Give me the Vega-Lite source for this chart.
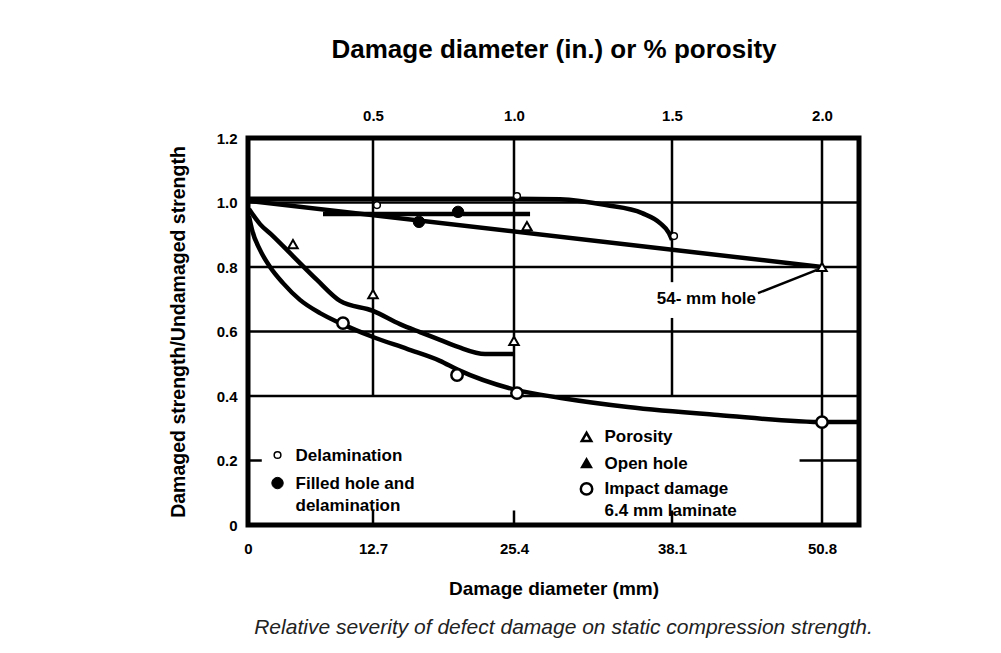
{
  "$schema": "https://vega.github.io/schema/vega-lite/v6.json",
  "width": 611,
  "height": 387,
  "autosize": {"type": "none"},
  "padding": {"left": 248, "top": 138, "right": 142, "bottom": 128},
  "background": "white",
  "config": {
    "font": "Liberation Sans",
    "view": {"stroke": "black", "strokeWidth": 5},
    "axis": {
      "labelFont": "Liberation Sans",
      "labelFontWeight": "bold",
      "labelFontSize": 15,
      "labelColor": "black",
      "titleFont": "Liberation Sans",
      "titleColor": "black",
      "titleFontWeight": "bold",
      "domain": false,
      "ticks": false,
      "tickSize": 0,
      "grid": false,
      "labelOverlap": false,
      "labelFlush": false,
      "labelBound": false
    }
  },
  "title": {
    "text": "Relative severity of defect damage on static compression strength.",
    "orient": "bottom",
    "anchor": "middle",
    "font": "Liberation Sans",
    "fontStyle": "italic",
    "fontWeight": "normal",
    "fontSize": 21,
    "color": "#222222",
    "offset": 19,
    "dx": 10
  },
  "datasets": {
    "grid": [
      {"mm": 0, "mm2": 54, "ratio": 1.0, "ratio2": 1.0},
      {"mm": 0, "mm2": 54, "ratio": 0.8, "ratio2": 0.8},
      {"mm": 0, "mm2": 54, "ratio": 0.6, "ratio2": 0.6},
      {"mm": 0, "mm2": 54, "ratio": 0.4, "ratio2": 0.4},
      {"mm": 0, "mm2": 1.4, "ratio": 0.2, "ratio2": 0.2},
      {"mm": 48.9, "mm2": 54, "ratio": 0.2, "ratio2": 0.2},
      {"mm": 12.7, "mm2": 12.7, "ratio": 0.4, "ratio2": 1.2},
      {"mm": 25.4, "mm2": 25.4, "ratio": 0.4, "ratio2": 1.2},
      {"mm": 38.1, "mm2": 38.1, "ratio": 0.753, "ratio2": 1.2},
      {"mm": 38.1, "mm2": 38.1, "ratio": 0.4, "ratio2": 0.642},
      {"mm": 50.8, "mm2": 50.8, "ratio": 0, "ratio2": 1.2},
      {"mm": 12.7, "mm2": 12.7, "ratio": 0, "ratio2": 0.045},
      {"mm": 25.4, "mm2": 25.4, "ratio": 0, "ratio2": 0.045},
      {"mm": 38.1, "mm2": 38.1, "ratio": 0, "ratio2": 0.045}
    ],
    "curves": [
      {"curve": "delamination", "mm": 0, "ratio": 1.012},
      {"curve": "delamination", "mm": 12.7, "ratio": 1.012},
      {"curve": "delamination", "mm": 25.4, "ratio": 1.012},
      {"curve": "delamination", "mm": 29.1, "ratio": 1.01},
      {"curve": "delamination", "mm": 32.8, "ratio": 0.992},
      {"curve": "delamination", "mm": 35.7, "ratio": 0.967},
      {"curve": "delamination", "mm": 37.14, "ratio": 0.936},
      {"curve": "delamination", "mm": 37.86, "ratio": 0.905},
      {"curve": "delamination", "mm": 38.1, "ratio": 0.884},
      {"curve": "filled hole", "mm": 7.62, "ratio": 0.964},
      {"curve": "filled hole", "mm": 26.69, "ratio": 0.964},
      {"curve": "open hole", "mm": 0, "ratio": 1.005},
      {"curve": "open hole", "mm": 50.8, "ratio": 0.8},
      {"curve": "porosity", "mm": 0.1, "ratio": 0.98},
      {"curve": "porosity", "mm": 1.22, "ratio": 0.933},
      {"curve": "porosity", "mm": 2.54, "ratio": 0.896},
      {"curve": "porosity", "mm": 4.57, "ratio": 0.834},
      {"curve": "porosity", "mm": 7.01, "ratio": 0.76},
      {"curve": "porosity", "mm": 9.35, "ratio": 0.695},
      {"curve": "porosity", "mm": 12.7, "ratio": 0.664},
      {"curve": "porosity", "mm": 15.13, "ratio": 0.623},
      {"curve": "porosity", "mm": 16.93, "ratio": 0.598},
      {"curve": "porosity", "mm": 18.73, "ratio": 0.574},
      {"curve": "porosity", "mm": 20.36, "ratio": 0.552},
      {"curve": "porosity", "mm": 22.79, "ratio": 0.53},
      {"curve": "porosity", "mm": 25.4, "ratio": 0.53},
      {"curve": "impact", "mm": 0.1, "ratio": 0.958},
      {"curve": "impact", "mm": 0.41, "ratio": 0.915},
      {"curve": "impact", "mm": 1.22, "ratio": 0.853},
      {"curve": "impact", "mm": 2.24, "ratio": 0.8},
      {"curve": "impact", "mm": 3.56, "ratio": 0.75},
      {"curve": "impact", "mm": 5.28, "ratio": 0.698},
      {"curve": "impact", "mm": 7.32, "ratio": 0.657},
      {"curve": "impact", "mm": 9.35, "ratio": 0.626},
      {"curve": "impact", "mm": 12.7, "ratio": 0.583},
      {"curve": "impact", "mm": 15.76, "ratio": 0.546},
      {"curve": "impact", "mm": 18.73, "ratio": 0.509},
      {"curve": "impact", "mm": 20.36, "ratio": 0.481},
      {"curve": "impact", "mm": 25.56, "ratio": 0.419},
      {"curve": "impact", "mm": 29.18, "ratio": 0.394},
      {"curve": "impact", "mm": 34.56, "ratio": 0.366},
      {"curve": "impact", "mm": 41.99, "ratio": 0.341},
      {"curve": "impact", "mm": 51.14, "ratio": 0.319},
      {"curve": "impact", "mm": 53.93, "ratio": 0.319}
    ],
    "markers": [
      {"series": "Delamination", "mm": 13.06, "ratio": 0.992},
      {"series": "Delamination", "mm": 25.64, "ratio": 1.02},
      {"series": "Delamination", "mm": 38.27, "ratio": 0.896},
      {"series": "Filled hole and delamination", "mm": 16.84, "ratio": 0.94},
      {"series": "Filled hole and delamination", "mm": 20.36, "ratio": 0.971},
      {"series": "Porosity", "mm": 4.57, "ratio": 0.871},
      {"series": "Porosity", "mm": 12.7, "ratio": 0.716},
      {"series": "Porosity", "mm": 25.4, "ratio": 0.571},
      {"series": "Open hole", "mm": 26.44, "ratio": 0.927},
      {"series": "Open hole", "mm": 50.8, "ratio": 0.8},
      {"series": "Impact damage", "mm": 9.65, "ratio": 0.626},
      {"series": "Impact damage", "mm": 20.27, "ratio": 0.465},
      {"series": "Impact damage", "mm": 25.64, "ratio": 0.409},
      {"series": "Impact damage", "mm": 50.8, "ratio": 0.319}
    ],
    "key": [
      {"series": "Delamination", "mm": 3.0, "ratio": 0.217, "label": "Delamination"},
      {"series": "Filled hole and delamination", "mm": 3.0, "ratio": 0.13, "label": "Filled hole and\ndelamination"},
      {"series": "Porosity", "mm": 31.23, "ratio": 0.273, "label": "Porosity"},
      {"series": "Open hole", "mm": 31.23, "ratio": 0.192, "label": "Open hole"},
      {"series": "Impact damage", "mm": 31.23, "ratio": 0.112, "label": "Impact damage\n6.4 mm laminate"}
    ],
    "leader": [
      {"mm": 45.38, "ratio": 0.719, "mm2": 50.38, "ratio2": 0.791, "text": "54- mm hole"}
    ]
  },
  "layer": [
    {
      "data": {"name": "grid"},
      "mark": {"type": "rule", "color": "black", "strokeWidth": 2.5},
      "encoding": {
        "x": {
          "field": "mm",
          "type": "quantitative",
          "scale": {
            "domain": [0, 12.7, 25.4, 38.1, 50.8, 54],
            "range": [0, 125, 266, 424, 574, 611],
            "nice": false,
            "zero": false
          },
          "axis": {
            "orient": "bottom",
            "values": [0, 12.7, 25.4, 38.1, 50.8],
            "labelExpr": "datum.value === 0 ? '0' : format(datum.value, '.1f')",
            "labelPadding": 16,
            "title": "Damage diameter (mm)",
            "titleFontSize": 19,
            "titlePadding": 23
          }
        },
        "x2": {"field": "mm2"},
        "y": {
          "field": "ratio",
          "type": "quantitative",
          "scale": {"domain": [0, 1.2], "nice": false},
          "axis": {
            "values": [0, 0.2, 0.4, 0.6, 0.8, 1.0, 1.2],
            "labelExpr": "datum.value === 0 ? '0' : format(datum.value, '.1f')",
            "labelPadding": 11,
            "title": "Damaged strength/Undamaged strength",
            "titleFontSize": 19.5,
            "titlePadding": 28
          }
        },
        "y2": {"field": "ratio2"}
      }
    },
    {
      "data": {"name": "curves"},
      "mark": {"type": "line", "interpolate": "monotone", "color": "black", "strokeWidth": 4.5},
      "encoding": {
        "x": {
          "field": "mm",
          "type": "quantitative",
          "axis": {
            "orient": "top",
            "values": [12.7, 25.4, 38.1, 50.8],
            "labelExpr": "format(datum.value / 25.4, '.1f')",
            "labelPadding": 15,
            "title": "Damage diameter (in.) or % porosity",
            "titleFontSize": 26,
            "titlePadding": 46
          }
        },
        "y": {"field": "ratio", "type": "quantitative"},
        "detail": {"field": "curve"}
      }
    },
    {
      "data": {"name": "leader"},
      "mark": {"type": "rule", "color": "black", "strokeWidth": 2.5},
      "encoding": {
        "x": {"field": "mm", "type": "quantitative", "axis": null},
        "x2": {"field": "mm2"},
        "y": {"field": "ratio", "type": "quantitative"},
        "y2": {"field": "ratio2"}
      }
    },
    {
      "data": {"name": "leader"},
      "mark": {"type": "text", "align": "right", "baseline": "middle", "dx": -2, "dy": 6, "fontSize": 17, "fontWeight": "bold", "color": "black"},
      "encoding": {
        "x": {"field": "mm", "type": "quantitative", "axis": null},
        "y": {"field": "ratio", "type": "quantitative"},
        "text": {"field": "text"}
      }
    },
    {
      "data": {"name": "markers"},
      "transform": [{"filter": "datum.series === 'Delamination'"}],
      "mark": {"type": "point", "shape": "circle", "size": 45, "filled": true, "fill": "white", "stroke": "black", "strokeWidth": 1.5, "opacity": 1},
      "encoding": {
        "x": {"field": "mm", "type": "quantitative", "axis": null},
        "y": {"field": "ratio", "type": "quantitative"}
      }
    },
    {
      "data": {"name": "markers"},
      "transform": [{"filter": "datum.series === 'Filled hole and delamination'"}],
      "mark": {"type": "point", "shape": "circle", "size": 130, "filled": true, "fill": "black", "stroke": "black", "strokeWidth": 1, "opacity": 1},
      "encoding": {
        "x": {"field": "mm", "type": "quantitative", "axis": null},
        "y": {"field": "ratio", "type": "quantitative"}
      }
    },
    {
      "data": {"name": "markers"},
      "transform": [{"filter": "datum.series === 'Porosity' || datum.series === 'Open hole'"}],
      "mark": {"type": "point", "shape": "triangle-up", "size": 90, "filled": true, "fill": "white", "stroke": "black", "strokeWidth": 2, "opacity": 1},
      "encoding": {
        "x": {"field": "mm", "type": "quantitative", "axis": null},
        "y": {"field": "ratio", "type": "quantitative"}
      }
    },
    {
      "data": {"name": "markers"},
      "transform": [{"filter": "datum.series === 'Impact damage'"}],
      "mark": {"type": "point", "shape": "circle", "size": 130, "filled": true, "fill": "white", "stroke": "black", "strokeWidth": 2.5, "opacity": 1},
      "encoding": {
        "x": {"field": "mm", "type": "quantitative", "axis": null},
        "y": {"field": "ratio", "type": "quantitative"}
      }
    },
    {
      "data": {"name": "key"},
      "transform": [{"filter": "datum.series === 'Delamination'"}],
      "mark": {"type": "point", "shape": "circle", "size": 45, "filled": true, "fill": "white", "stroke": "black", "strokeWidth": 1.5, "opacity": 1},
      "encoding": {
        "x": {"field": "mm", "type": "quantitative", "axis": null},
        "y": {"field": "ratio", "type": "quantitative"}
      }
    },
    {
      "data": {"name": "key"},
      "transform": [{"filter": "datum.series === 'Filled hole and delamination'"}],
      "mark": {"type": "point", "shape": "circle", "size": 130, "filled": true, "fill": "black", "stroke": "black", "strokeWidth": 1, "opacity": 1},
      "encoding": {
        "x": {"field": "mm", "type": "quantitative", "axis": null},
        "y": {"field": "ratio", "type": "quantitative"}
      }
    },
    {
      "data": {"name": "key"},
      "transform": [{"filter": "datum.series === 'Porosity'"}],
      "mark": {"type": "point", "shape": "triangle-up", "size": 90, "filled": true, "fill": "white", "stroke": "black", "strokeWidth": 2.5, "opacity": 1},
      "encoding": {
        "x": {"field": "mm", "type": "quantitative", "axis": null},
        "y": {"field": "ratio", "type": "quantitative"}
      }
    },
    {
      "data": {"name": "key"},
      "transform": [{"filter": "datum.series === 'Open hole'"}],
      "mark": {"type": "point", "shape": "triangle-up", "size": 90, "filled": true, "fill": "black", "stroke": "black", "strokeWidth": 2, "opacity": 1},
      "encoding": {
        "x": {"field": "mm", "type": "quantitative", "axis": null},
        "y": {"field": "ratio", "type": "quantitative"}
      }
    },
    {
      "data": {"name": "key"},
      "transform": [{"filter": "datum.series === 'Impact damage'"}],
      "mark": {"type": "point", "shape": "circle", "size": 130, "filled": true, "fill": "white", "stroke": "black", "strokeWidth": 2.5, "opacity": 1},
      "encoding": {
        "x": {"field": "mm", "type": "quantitative", "axis": null},
        "y": {"field": "ratio", "type": "quantitative"}
      }
    },
    {
      "data": {"name": "key"},
      "mark": {"type": "text", "align": "left", "baseline": "top", "lineBreak": "\n", "lineHeight": 22, "dx": 18, "dy": -7.5, "fontSize": 17, "fontWeight": "bold", "color": "black"},
      "encoding": {
        "x": {"field": "mm", "type": "quantitative", "axis": null},
        "y": {"field": "ratio", "type": "quantitative"},
        "text": {"field": "label"}
      }
    }
  ],
  "resolve": {"axis": {"x": "independent"}}
}
